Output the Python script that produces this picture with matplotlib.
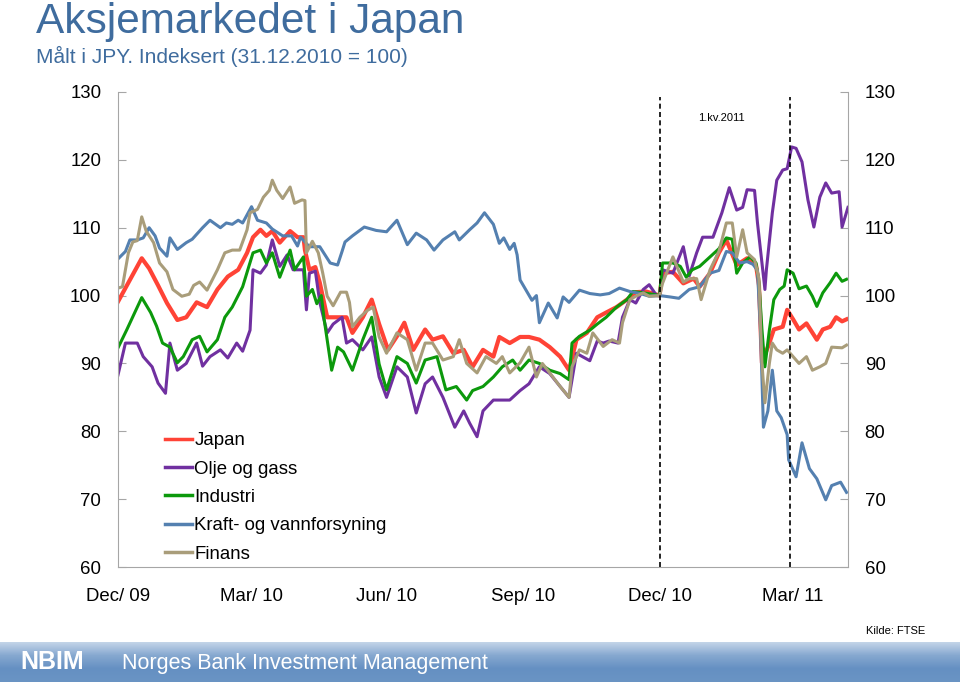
import numpy as np
import pandas as pd
import matplotlib
matplotlib.use('Agg')
import matplotlib.pyplot as plt
from matplotlib.colors import LinearSegmentedColormap

plt.rcParams['font.family'] = ['Liberation Sans', 'DejaVu Sans']

# days after 31.12.2009, index values (31.12.2010 = 100)
japan_days = [0, 8, 16, 21, 27, 33, 40, 46, 53, 60, 67, 74, 81, 87, 91, 96, 100, 104, 109, 116,
              121, 125, 126, 129, 133, 136, 141, 148, 154, 158, 165, 171, 176, 182, 188, 193, 199,
              207, 212, 219, 226, 233, 239, 246, 253, 257, 264, 271, 277, 284, 291, 298, 304, 309,
              316, 323, 329, 336, 343, 349, 356, 365, 367, 374, 381, 388, 392, 399, 405, 410, 417,
              424, 430, 432, 434, 439, 442, 448, 451, 455, 459, 464, 471, 475, 480, 484, 488, 491]
japan = [99.1, 102.3, 105.5, 104.0, 101.5, 98.9, 96.4, 96.8, 99.0, 98.3, 100.9, 102.8, 103.8,
         106.3, 108.6, 109.7, 108.8, 109.5, 107.8, 109.5, 108.6, 108.6, 106.7, 103.8, 104.2, 101.9,
         96.8, 96.8, 96.8, 94.5, 96.8, 99.4, 95.8, 92.0, 94.0, 96.0, 92.0, 95.0, 93.5, 94.0, 91.5,
         92.0, 89.5, 92.0, 91.0, 93.9, 93.0, 93.9, 93.9, 93.5, 92.4, 91.0, 89.0, 93.5, 94.5, 96.8,
         97.5, 98.3, 99.4, 100.5, 100.6, 100.0, 103.3, 103.5, 101.8, 102.5, 101.3, 103.3, 106.3,
         108.2, 104.5, 105.5, 104.5, 101.5, 90.1, 93.0, 95.0, 95.4, 97.9, 96.5, 95.0, 95.9, 93.5,
         95.0, 95.4, 96.8, 96.2, 96.5]

olje_days = [0, 5, 13, 17, 23, 27, 32, 35, 40, 46, 53, 57, 62, 69, 74, 80, 84, 89, 91, 96, 100,
             104, 109, 114, 118, 125, 127, 129, 133, 136, 141, 145, 151, 154, 158, 165, 171, 176,
             181, 188, 195, 201, 207, 212, 219, 227, 233, 237, 242, 246, 253, 257, 264, 271, 277,
             284, 291, 298, 304, 309, 313, 318, 323, 327, 331, 337, 340, 345, 349, 354, 358, 363,
             365, 367, 374, 381, 385, 390, 394, 401, 407, 412, 417, 421, 424, 429, 431, 436, 437,
             441, 444, 448, 451, 454, 457, 461, 465, 469, 473, 477, 481, 486, 488, 492]
olje = [88.3, 93.0, 93.0, 91.0, 89.5, 87.1, 85.6, 93.0, 89.0, 90.0, 93.0, 89.6, 91.0, 92.0, 90.8,
        93.0, 91.8, 94.9, 103.8, 103.3, 104.5, 108.2, 104.3, 106.0, 103.8, 103.8, 97.9, 103.3,
        103.6, 99.0, 94.5, 95.8, 96.8, 93.0, 93.5, 92.0, 93.9, 88.0, 85.0, 89.5, 88.0, 82.7, 87.0,
        88.0, 85.0, 80.6, 83.0, 81.2, 79.2, 83.0, 84.6, 84.6, 84.6, 86.0, 87.0, 89.5, 88.5, 86.6,
        85.0, 91.5, 91.0, 90.4, 93.3, 93.0, 93.3, 93.0, 96.8, 99.4, 98.9, 100.9, 101.6, 100.0,
        100.0, 103.8, 103.3, 107.2, 102.9, 106.3, 108.6, 108.6, 112.2, 115.9, 112.6, 113.0, 115.6,
        115.5, 110.7, 100.9, 103.8, 112.2, 117.0, 118.5, 118.7, 121.9, 121.7, 119.7, 114.1, 110.1,
        114.5, 116.6, 115.1, 115.3, 110.1, 113.0]

industri_days = [0, 6, 13, 16, 22, 26, 30, 35, 40, 44, 50, 55, 60, 67, 72, 77, 84, 91, 96, 100,
                 104, 109, 116, 119, 125, 127, 131, 134, 137, 139, 144, 148, 152, 158, 165, 171,
                 176, 181, 188, 195, 201, 207, 215, 221, 228, 235, 239, 246, 253, 259, 266, 271,
                 277, 284, 291, 298, 304, 306, 311, 318, 323, 329, 336, 343, 347, 354, 360, 365,
                 367, 374, 379, 383, 387, 392, 399, 405, 410, 414, 417, 421, 426, 430, 432, 434,
                 436, 439, 442, 446, 449, 451, 455, 459, 464, 468, 471, 475, 480, 484, 488, 491]
industri = [92.3, 95.0, 98.3, 99.7, 97.5, 95.5, 93.0, 92.4, 90.1, 91.0, 93.5, 94.0, 91.7, 93.5,
            96.8, 98.3, 101.3, 106.3, 106.7, 104.8, 106.3, 102.7, 106.7, 103.8, 105.7, 99.9, 100.9,
            98.8, 100.0, 96.4, 89.0, 92.4, 91.7, 89.0, 93.5, 96.8, 89.9, 86.1, 91.0, 90.0, 87.1,
            90.5, 91.0, 86.1, 86.6, 84.6, 86.0, 86.6, 88.0, 89.5, 90.5, 89.0, 90.5, 90.0, 89.0,
            88.5, 87.6, 93.0, 94.0, 94.9, 95.8, 96.8, 98.3, 99.4, 100.6, 100.4, 100.2, 100.0,
            104.8, 104.8, 104.3, 102.7, 103.8, 104.3, 105.7, 106.9, 108.5, 108.3, 103.3, 104.8,
            105.7, 104.8, 101.9, 95.0, 89.5, 94.9, 99.4, 100.9, 101.4, 103.8, 103.3, 101.0, 101.4,
            99.9, 98.4, 100.4, 101.9, 103.3, 102.1, 102.4]

kraft_days = [0, 5, 8, 13, 17, 21, 25, 28, 33, 35, 40, 46, 50, 57, 62, 69, 73, 77, 81, 84, 90, 94,
              100, 104, 111, 117, 121, 123, 129, 136, 143, 148, 151, 153, 158, 166, 174, 181, 188,
              195, 201, 208, 213, 219, 227, 230, 237, 242, 247, 253, 257, 260, 264, 267, 269, 271,
              275, 279, 282, 284, 290, 296, 300, 304, 311, 318, 325, 331, 338, 345, 352, 358, 365,
              372, 378, 385, 392, 399, 405, 410, 414, 419, 424, 428, 431, 433, 435, 438, 441, 444,
              447, 451, 452, 457, 461, 466, 471, 477, 481, 487, 491]
kraft = [105.4, 106.5, 108.2, 108.2, 108.5, 110.0, 108.8, 107.0, 105.8, 108.5, 106.8, 107.8, 108.3,
         110.0, 111.1, 110.0, 110.7, 110.5, 111.1, 110.7, 113.1, 111.1, 110.7, 109.8, 108.8, 108.8,
         107.3, 108.6, 107.2, 107.2, 104.8, 104.5, 106.5, 107.9, 108.8, 110.1, 109.6, 109.4, 111.1,
         107.5, 109.2, 108.2, 106.7, 108.2, 109.4, 108.2, 109.7, 110.7, 112.2, 110.5, 107.7, 108.5,
         106.8, 107.7, 106.0, 102.3, 100.8, 99.3, 100.0, 96.0, 98.9, 96.7, 99.8, 99.0, 100.8,
         100.3, 100.1, 100.3, 101.1, 100.6, 100.3, 99.9, 100.0, 99.8, 99.6, 100.9, 101.3, 103.3,
         103.7, 106.5, 106.3, 104.8, 105.0, 104.6, 103.7, 95.0, 80.6, 83.0, 89.0, 83.0, 82.0, 79.5,
         75.8, 73.3, 78.3, 74.5, 73.0, 69.9, 72.0, 72.5, 71.0]

finans_days = [0, 3, 7, 10, 13, 16, 19, 24, 28, 33, 37, 43, 48, 51, 55, 60, 67, 72, 77, 82, 87, 89,
               94, 98, 102, 104, 107, 111, 116, 119, 124, 126, 127, 131, 135, 138, 141, 145, 150,
               154, 156, 158, 163, 168, 172, 176, 181, 188, 195, 201, 207, 212, 219, 226, 230, 235,
               242, 248, 255, 259, 264, 271, 277, 282, 286, 291, 298, 304, 306, 311, 316, 320, 327,
               333, 338, 340, 345, 349, 354, 358, 365, 367, 374, 381, 385, 390, 393, 399, 405, 410,
               414, 417, 421, 424, 429, 432, 434, 436, 439, 441, 444, 448, 451, 455, 459, 464, 468,
               473, 477, 481, 488, 491]
finans = [101.1, 101.3, 106.3, 107.9, 108.1, 111.6, 109.5, 107.8, 104.8, 103.5, 100.9, 99.9, 100.2,
          101.5, 102.0, 100.8, 103.8, 106.3, 106.7, 106.7, 109.7, 112.2, 112.7, 114.5, 115.5, 117.0,
          115.5, 114.3, 116.0, 113.6, 114.1, 114.0, 106.3, 108.0, 106.3, 103.3, 99.9, 98.5, 100.5,
          100.5, 99.0, 95.4, 96.8, 97.8, 98.3, 93.9, 91.5, 94.5, 93.5, 89.0, 93.0, 93.0, 90.5,
          91.0, 93.5, 90.0, 88.6, 91.0, 90.0, 91.0, 88.6, 90.1, 92.4, 88.0, 90.0, 88.6, 86.6, 85.0,
          89.5, 92.0, 91.5, 94.5, 92.5, 93.5, 93.0, 96.0, 99.4, 99.9, 100.4, 99.9, 100.0, 101.8,
          105.7, 102.0, 102.5, 102.5, 99.4, 103.8, 106.5, 110.7, 110.7, 105.7, 109.7, 106.3, 105.3,
          102.5, 90.0, 84.2, 90.0, 93.0, 92.0, 91.5, 92.0, 91.0, 90.0, 91.0, 89.0, 89.5, 90.0,
          92.4, 92.3, 92.7]

series = [
    ('Japan', japan_days, japan, '#FF4336', 3.0),
    ('Olje og gass', olje_days, olje, '#7030A0', 2.2),
    ('Industri', industri_days, industri, '#0C990C', 2.2),
    ('Kraft- og vannforsyning', kraft_days, kraft, '#5480B0', 2.2),
    ('Finans', finans_days, finans, '#A99D7A', 2.2),
]

tick_dates = ['2009-12-31', '2010-03-31', '2010-06-30', '2010-09-30', '2010-12-31', '2011-03-31']
tick_labels = ['Dec/ 09', 'Mar/ 10', 'Jun/ 10', 'Sep/ 10', 'Dec/ 10', 'Mar/ 11']
quarter_marks = ['2010-12-31', '2011-03-29']

start = pd.Timestamp('2009-12-31')


def to_dates(days):
    return start + pd.to_timedelta(days, unit='D')


fig = plt.figure(figsize=(9.6, 6.82), dpi=100)
ax = fig.add_axes([118 / 960, 1 - 567 / 682, 730 / 960, 475 / 682])

for name, days, vals, color, lw in series:
    ax.plot(to_dates(days), vals, color=color, lw=lw, label=name, solid_joinstyle='round')

for d in quarter_marks:
    ax.axvline(pd.Timestamp(d), ymin=0, ymax=0.99, color='black', lw=1.2, ls=(0, (3, 2)))
ax.text(0.827, 0.945, '1.kv.2011', transform=ax.transAxes, ha='center', va='center', fontsize=8)

ax.set_xlim(start, start + pd.Timedelta(days=492))
ax.set_ylim(60, 130)
ax.set_yticks(range(60, 131, 10))
ax.set_xticks([pd.Timestamp(d) for d in tick_dates])
ax.set_xticklabels(tick_labels)

for side in ['left', 'right', 'bottom']:
    ax.spines[side].set_color('#A6A6A6')
ax.spines['top'].set_visible(False)
ax.tick_params(axis='y', direction='in', length=6, color='#A6A6A6', labelsize=13.4, pad=12,
               left=True, right=True, labelleft=True, labelright=True)
ax.tick_params(axis='x', length=0, labelsize=13.4, pad=15)

leg = ax.legend(loc='upper left', bbox_to_anchor=(0.064, 0.284), frameon=False, fontsize=13.4,
                handlelength=1.45, handletextpad=0.15, labelspacing=0.61, borderpad=0,
                borderaxespad=0)
for line in leg.get_lines():
    line.set_linewidth(2.5)

fig.text(36 / 960, 1 - 33 / 682, 'Aksjemarkedet i Japan', fontsize=30.5, color='#3F6C9E',
         va='baseline')
fig.text(36 / 960, 1 - 63 / 682, 'Målt i JPY. Indeksert (31.12.2010 = 100)', fontsize=15,
         color='#3F6C9E', va='baseline')
fig.text(866 / 960, 1 - 631 / 682, 'Kilde: FTSE', fontsize=8, va='center')

# footer band
foot = fig.add_axes([0, 0, 1, 40 / 682])
cmap = LinearSegmentedColormap.from_list('foot', ['#C3D4E8', '#86A8D0', '#6590C2', '#6A94C4'])
grad = np.linspace(0, 1, 64)[:, None] * np.ones((1, 8))
foot.imshow(grad, aspect='auto', cmap=cmap, extent=[0, 1, 0, 1])
foot.set_axis_off()
fig.text(20 / 960, 1 - 662 / 682, 'NBIM', fontsize=18, fontweight='bold', color='white',
         va='center')
fig.text(122 / 960, 1 - 663 / 682, 'Norges Bank Investment Management', fontsize=15.5,
         color='white', va='center')

fig.savefig('out.png', dpi=100)
